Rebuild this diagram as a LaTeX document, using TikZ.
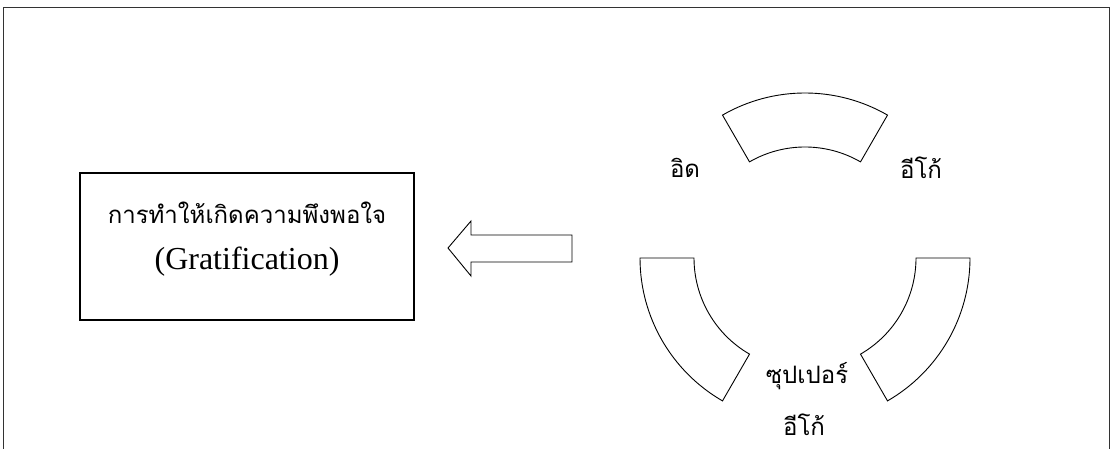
\documentclass[tikz,border=0pt]{standalone}
\usepackage{fontspec}
\usetikzlibrary{calc}
\setmainfont{Liberation Serif}
\newfontfamily\thaifont[Script=Thai]{Loma}
\begin{document}
\begin{tikzpicture}[x=1pt,y=1pt,
  outline/.style={draw=black,line width=0.9pt,line join=miter},
  thailabel/.style={font=\thaifont\fontsize{24}{28}\selectfont,inner sep=0pt},
  latinlabel/.style={font=\fontsize{32}{36}\selectfont,inner sep=0pt}]
\useasboundingbox (0,0) rectangle (1113,449);
% page frame, open at the bottom
\draw[line width=0.9pt,color=black!80] (3,0) -- (3,441.5) -- (1109.5,441.5) -- (1109.5,0);
% result box
\node[outline,line width=1.4pt,minimum width=334,minimum height=147,inner sep=0pt] (grat) at (247,202.5) {};
\node[thailabel] (gratth) at (247,236) {การทำให้เกิดความพึงพอใจ};
\node[latinlabel] (graten) at (247,187) {(Gratification)};
% block arrow pointing at the box
\draw[outline] (448,201) -- (471,228) -- (471,214) -- (572,214) -- (572,187) -- (471,187) -- (471,173) -- cycle;
% three ring segments around the centre of the psyche
\coordinate (c) at (805,191);
\def\Rout{165}
\def\Rin{111}
\foreach \a/\b in {60/120,180/240,300/360}{
  \draw[outline] ($(c)+(\a:\Rout)$) arc[start angle=\a,end angle=\b,radius=\Rout]
    -- ($(c)+(\b:\Rin)$) arc[start angle=\b,end angle=\a,radius=\Rin] -- cycle;
}
\node[thailabel] (id) at (685,281) {อิด};
\node[thailabel] (ego) at (921,281) {อีโก้};
\node[thailabel] (super) at (807,73) {ซุปเปอร์};
\node[thailabel] (superego) at (804,24) {อีโก้};
\end{tikzpicture}
\end{document}
